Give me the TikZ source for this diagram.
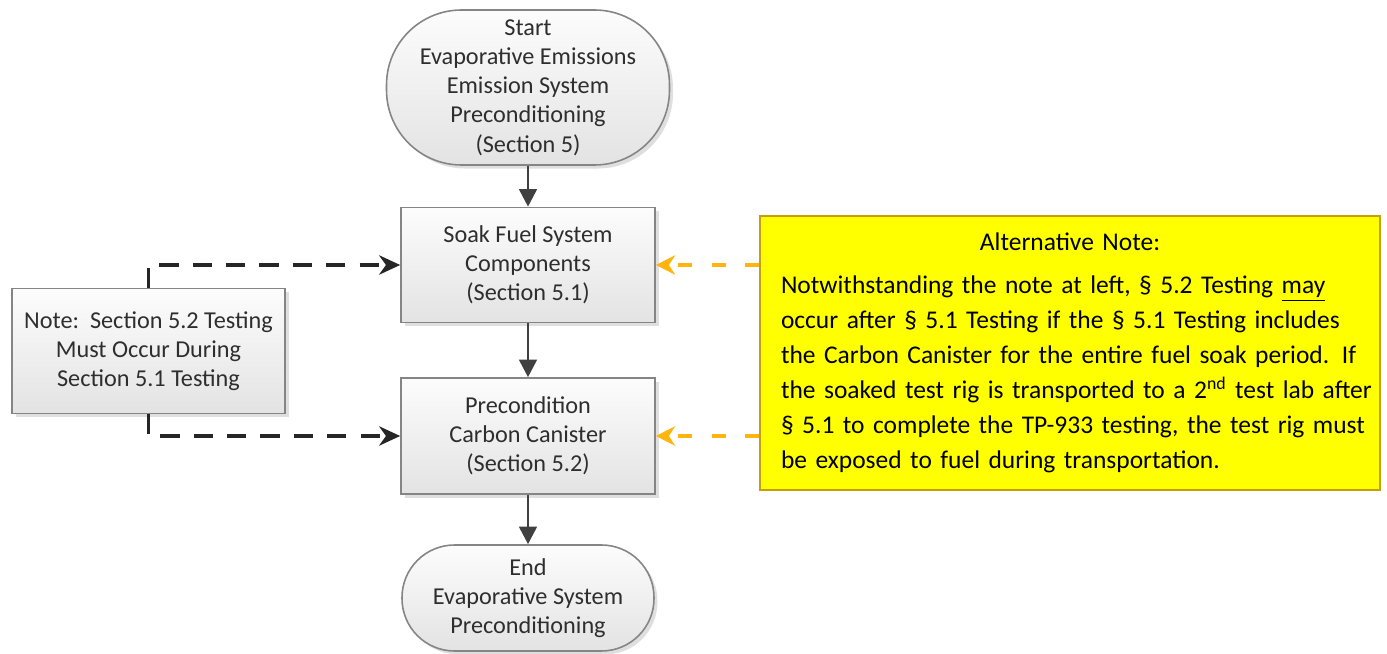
\documentclass[tikz,border=0pt]{standalone}
\usepackage{fontspec}
\setmainfont{Carlito}
\usetikzlibrary{arrows.meta,shadows}

\begin{document}
\begin{tikzpicture}

\definecolor{boxline}{rgb}{0.52,0.52,0.52}
\definecolor{boxtop}{rgb}{0.99,0.99,0.99}
\definecolor{boxbot}{rgb}{0.89,0.89,0.89}
\definecolor{flowtext}{rgb}{0.18,0.18,0.18}
\definecolor{altfill}{rgb}{1,1,0}
\definecolor{altline}{rgb}{0.78,0.62,0.05}
\definecolor{altarrow}{rgb}{1,0.71,0.05}

\tikzset{
  flowfont/.style={font=\fontsize{13.8}{16.6}\selectfont, text=flowtext, align=center},
  stepbox/.style={flowfont, draw=boxline, line width=0.9pt, top color=boxtop, bottom color=boxbot,
    drop shadow={shadow xshift=2pt, shadow yshift=-2pt, opacity=0.25, fill=gray},
    minimum width=5.08cm, minimum height=2.3cm, inner sep=2pt},
  terminal/.style={stepbox, rounded corners=1.05cm},
  flow/.style={draw=black!75, line width=1.6pt, -{Triangle[length=10pt,width=10pt]}},
  leftdash/.style={draw=black!85, line width=2pt, dash pattern=on 11pt off 8pt,
    -{Stealth[length=12pt,width=11pt]}},
  altdash/.style={draw=altarrow, line width=2.4pt, dash pattern=on 8pt off 11pt,
    -{Stealth[length=11pt,width=11pt]}}
}

\useasboundingbox (0,0) rectangle (27.74,-13.08);

\node[terminal, minimum width=5.66cm, minimum height=3.1cm, rounded corners=1.5cm] (start) at (10.56,-1.75)
  {Start\\Evaporative Emissions\\Emission System\\Preconditioning\\(Section 5)};
\node[stepbox] (soak) at (10.56,-5.3) {Soak Fuel System\\Components\\(Section 5.1)};
\node[stepbox, minimum height=2.32cm] (canister) at (10.56,-8.72) {Precondition\\Carbon Canister\\(Section 5.2)};
\node[terminal, minimum width=5.04cm, minimum height=2.12cm] (finish) at (10.56,-11.96)
  {End\\Evaporative System\\Preconditioning};

\node[stepbox, minimum width=5.46cm, minimum height=2.5cm] (note) at (2.97,-7.02)
  {Note:\ \ Section 5.2 Testing\\Must Occur During\\Section 5.1 Testing};

\node[draw=altline, fill=altfill, line width=1.2pt, minimum width=12.4cm, minimum height=5.48cm,
  text width=11.9cm, inner xsep=0.25cm, align=left, font=\fontsize{14.5}{19.9}\selectfont] (alt) at (21.4,-7.06)
  {\makebox[\linewidth][c]{Alternative Note:}\\[0.16cm]
   \hspace*{0.17cm}\mbox{Notwithstanding the note at left, § 5.2 Testing \underline{may}}\\
   \hspace*{0.17cm}\mbox{occur after § 5.1 Testing if the § 5.1 Testing includes}\\
   \hspace*{0.17cm}\mbox{the Carbon Canister for the entire fuel soak period. If}\\
   \hspace*{0.17cm}\mbox{the soaked test rig is transported to a 2\textsuperscript{nd} test lab after}\\
   \hspace*{0.17cm}\mbox{§ 5.1 to complete the TP-933 testing, the test rig must}\\
   \hspace*{0.17cm}\mbox{be exposed to fuel during transportation.}};

\draw[flow] (start) -- (soak);
\draw[flow] (soak) -- (canister);
\draw[flow] (canister) -- (finish);

\draw[leftdash] (note.north) |- (soak.west);
\draw[leftdash] (note.south) |- (canister.west);

\draw[altdash] (alt.west |- soak.east) -- (soak.east);
\draw[altdash] (alt.west |- canister.east) -- (canister.east);

\end{tikzpicture}
\end{document}
